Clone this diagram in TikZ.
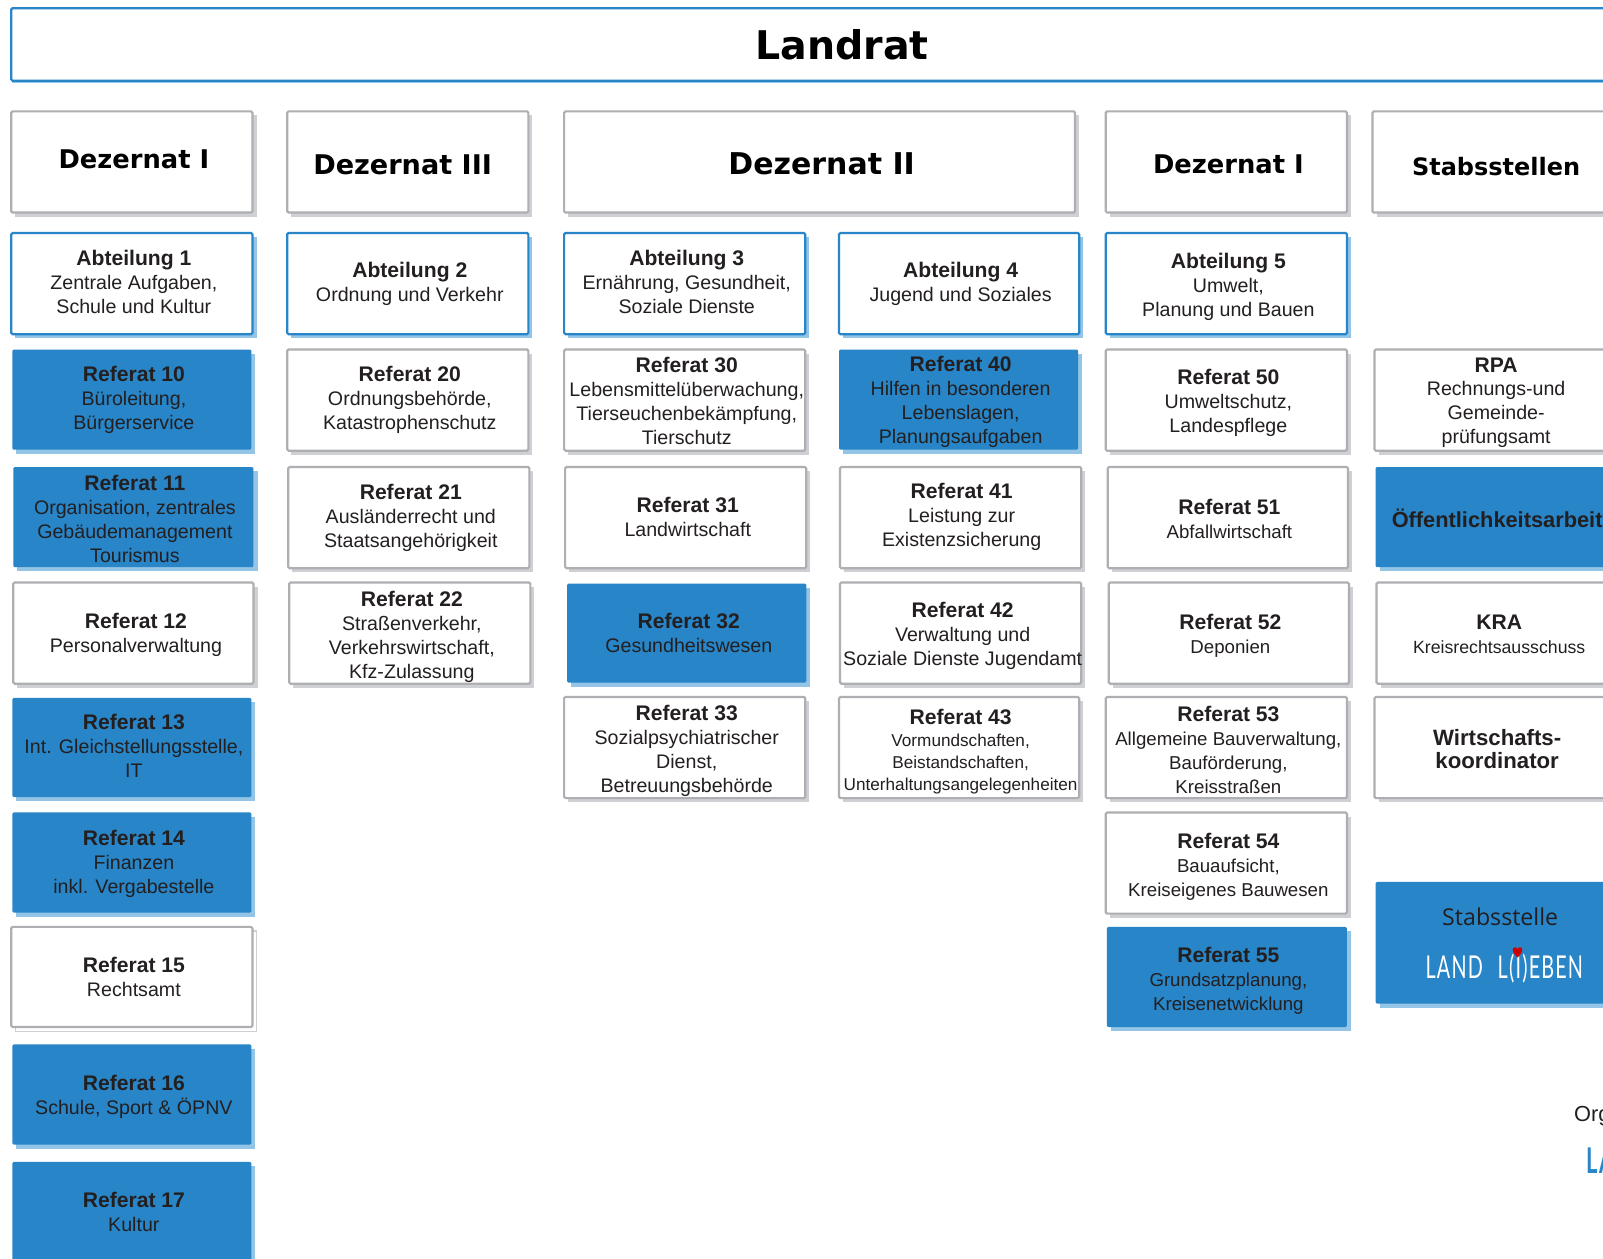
\documentclass[tikz,border=0pt]{standalone}
\usepackage{fontspec}
\setmainfont{Liberation Sans}
\newfontfamily\headf{DejaVu Sans}
\newfontfamily\stabf{Open Sans}
\newfontfamily\deco{Lato}[LetterSpace=6]
\definecolor{blu}{HTML}{2785C8}
\definecolor{blus}{HTML}{94C4E6}
\definecolor{gry}{HTML}{AEAFB3}
\definecolor{grys}{HTML}{CFD0D3}
\definecolor{ink}{HTML}{231F20}
\tikzset{
 base/.style={rectangle,inner sep=0pt,outer sep=0pt,rounded corners=1pt},
 whitebox/.style={base,draw=gry,line width=1.6pt,fill=white},
 abtbox/.style={base,draw=blu,line width=1.6pt,fill=white},
 bluebox/.style={base,fill=blu},
 lightbox/.style={base,draw=gry,line width=1.6pt,fill=white},
 whiteboxshade/.style={fill=grys},
 abtboxshade/.style={fill=blus},
 blueboxshade/.style={fill=blus},
 lightboxshade/.style={fill=white,draw=grys,line width=.8pt},
 txt/.style={align=center,text=ink,inner sep=0pt,font=\fontsize{14.4}{17.5}\selectfont},
}
\newcommand{\hd}[1]{{\fontsize{15.5}{17.5}\selectfont\bfseries #1}}
\newcommand{\dzt}[2][18.9]{{\headf\fontsize{#1}{24}\selectfont\bfseries\textcolor{black}{#2}}}
\newcommand{\sm}[1]{{\fontsize{12.6}{15.5}\selectfont #1}}
\newcommand{\wb}[1]{{\fontsize{16.3}{18.5}\selectfont\bfseries #1}}
\newcommand{\bx}[9]{%
 \path[#6shade] (#2+4,#3+4) rectangle (#4+4,#5+4);
 \node[#6,minimum width={(#4-#2)*0.75pt},minimum height={(#5-#3)*0.75pt}] (#1) at ({(#2+#4)/2},{(#3+#5)/2}) {};
 \node[txt] (#1t) at (#7,#8) {#9};
}
\begin{document}
\begin{tikzpicture}[x=0.75pt,y=-0.75pt]
\useasboundingbox (0,0) rectangle (1568.6,1231);
\clip (0,0) rectangle (1568.6,1231);
\fill[white] (0,0) rectangle (1568.6,1231);
% Landrat
\fill[blus] (12,9) rectangle (1590,81);
\node[abtbox,minimum width={1600*0.75pt},minimum height={71*0.75pt},anchor=north west] (landrat) at (11,8) {};
\node[inner sep=0pt,text=black,font=\headf\fontsize{29}{34}\selectfont\bfseries] (landratt) at (824,44) {Landrat};
% Dezernate
\bx{dza}{11}{109}{247}{208}{whitebox}{131}{156}{\dzt{Dezernat I}}
\bx{dzc}{281}{109}{517}{208}{whitebox}{394}{161}{\dzt[19.9]{Dezernat III}}
\bx{dzb}{552}{109}{1052}{208}{whitebox}{804}{160}{\dzt[22]{Dezernat II}}
\bx{dzd}{1082}{109}{1318}{208}{whitebox}{1202}{161}{\dzt{Dezernat I}}
\bx{stab}{1343}{109}{1620}{208}{whitebox}{1464}{163}{\dzt[17.6]{Stabsstellen}}
% Abteilungen
\bx{a1}{11}{228}{247}{327}{abtbox}{131}{276}{\hd{Abteilung 1}\\Zentrale Aufgaben,\\Schule und Kultur}
\bx{a2}{281}{228}{517}{327}{abtbox}{401}{278}{\hd{Abteilung 2}\\Ordnung und Verkehr}
\bx{a3}{552}{228}{788}{327}{abtbox}{672}{276}{\hd{Abteilung 3}\\Ernährung, Gesundheit,\\Soziale Dienste}
\bx{a4}{821}{228}{1056}{327}{abtbox}{940}{278}{\hd{Abteilung 4}\\Jugend und Soziales}
\bx{a5}{1082}{228}{1318}{327}{abtbox}{1202}{281}{\hd{Abteilung 5}\\Umwelt,\\Planung und Bauen}
% Column 1
\bx{r10}{12}{342}{246}{440}{bluebox}{131}{391}{\hd{Referat 10}\\Büroleitung,\\Bürgerservice}
\bx{r11}{13}{457}{248}{555}{bluebox}{132}{508}{\hd{Referat 11}\\Organisation, zentrales\\Gebäudemanagement\\Tourismus}
\bx{r12}{13}{570}{248}{669}{whitebox}{133}{621}{\hd{Referat 12}\\Personalverwaltung}
\bx{r13}{12}{683}{246}{780}{bluebox}{131}{730}{\hd{Referat 13}\\Int. Gleichstellungsstelle,\\IT}
\bx{r14}{12}{795}{246}{893}{bluebox}{131}{845}{\hd{Referat 14}\\Finanzen\\inkl. Vergabestelle}
\bx{r15}{11}{907}{247}{1005}{lightbox}{131}{956}{\hd{Referat 15}\\Rechtsamt}
\bx{r16}{12}{1022}{246}{1120}{bluebox}{131}{1073}{\hd{Referat 16}\\Schule, Sport \& ÖPNV}
\bx{r17}{12}{1137}{246}{1260}{bluebox}{131}{1186}{\hd{Referat 17}\\Kultur}
% Column 2
\bx{r20}{281}{342}{517}{441}{whitebox}{401}{391}{\hd{Referat 20}\\Ordnungsbehörde,\\Katastrophenschutz}
\bx{r21}{282}{457}{518}{556}{whitebox}{402}{506.5}{\hd{Referat 21}\\Ausländerrecht und\\Staatsangehörigkeit}
\bx{r22}{283}{570}{519}{669}{whitebox}{403}{623}{\hd{Referat 22}\\Straßenverkehr,\\Verkehrswirtschaft,\\Kfz-Zulassung}
% Column 3
\bx{r30}{552}{342}{788}{441}{whitebox}{672}{392.5}{\hd{Referat 30}\\Lebensmittelüberwachung,\\Tierseuchenbekämpfung,\\Tierschutz}
\bx{r31}{553}{457}{789}{556}{whitebox}{673}{506}{\hd{Referat 31}\\Landwirtschaft}
\bx{r32}{555}{571}{789}{668}{bluebox}{674}{619}{\hd{Referat 32}\\Gesundheitswesen}
\bx{r33}{552}{682}{788}{781}{whitebox}{672}{735}{\hd{Referat 33}\\Sozialpsychiatrischer\\Dienst,\\Betreuungsbehörde}
% Column 4
\bx{r40}{821}{342}{1055}{440}{bluebox}{940}{393}{\hd{Referat 40}\\Hilfen in besonderen\\Lebenslagen,\\Planungsaufgaben}
\bx{r41}{822}{457}{1058}{556}{whitebox}{941}{506}{\hd{Referat 41}\\Leistung zur\\Existenzsicherung}
\bx{r42}{822}{570}{1058}{669}{whitebox}{942}{622}{\hd{Referat 42}\\Verwaltung und\\Soziale Dienste Jugendamt}
\bx{r43}{821}{682}{1056}{781}{whitebox}{940}{735.5}{\hd{Referat 43}\\[-1.5pt]\sm{Vormundschaften,}\\[-1.5pt]\sm{Beistandschaften,}\\[-1.5pt]\sm{Unterhaltungsangelegenheiten}}
% Column 5
\bx{r50}{1082}{342}{1318}{441}{whitebox}{1202}{394.5}{\hd{Referat 50}\\Umweltschutz,\\Landespflege}
\begin{scope}[txt/.append style={font=\fontsize{13.7}{17.5}\selectfont}]
\bx{r51}{1084}{457}{1319}{556}{whitebox}{1203}{508}{\hd{Referat 51}\\Abfallwirtschaft}
\bx{r52}{1085}{570}{1320}{669}{whitebox}{1204}{622}{\hd{Referat 52}\\Deponien}
\bx{r53}{1082}{682}{1318}{781}{whitebox}{1202}{734}{\hd{Referat 53}\\Allgemeine Bauverwaltung,\\Bauförderung,\\Kreisstraßen}
\bx{r54}{1082}{795}{1318}{894}{whitebox}{1202}{848.5}{\hd{Referat 54}\\Bauaufsicht,\\Kreiseigenes Bauwesen}
\bx{r55}{1083}{907}{1318}{1005}{bluebox}{1202}{960}{\hd{Referat 55}\\Grundsatzplanung,\\Kreisenetwicklung}
\end{scope}
% Column 6
\bx{rpa}{1345}{342}{1620}{441}{whitebox}{1464}{394}{\hd{RPA}\\Rechnungs-und\\Gemeinde-\\prüfungsamt}
\bx{oeff}{1346}{457}{1620}{555}{bluebox}{1465}{507}{{\fontsize{16}{18}\selectfont\bfseries Öffentlichkeitsarbeit}}
\begin{scope}[txt/.append style={font=\fontsize{13}{17.5}\selectfont}]
\bx{kra}{1347}{570}{1620}{669}{whitebox}{1467}{621}{\hd{KRA}\\Kreisrechtsausschuss}
\end{scope}
\bx{wirt}{1345}{682}{1620}{781}{whitebox}{1465}{733}{\wb{Wirtschafts-}\\\wb{koordinator}}
\bx{sst}{1346}{863}{1620}{982}{bluebox}{1468}{897}{{\stabf\fontsize{17}{20}\selectfont Stabsstelle}}
\node[inner sep=0pt,text=white,font=\deco\fontsize{22}{24}\selectfont] (ll) at (1472,948) {\scalebox{0.66}[1.05]{LAND\hspace{0.75em}L(I)EBEN}};
\fill[red!80!black] (1485,937) .. controls (1480,932) and (1479,928) .. (1482,927) .. controls (1484,926.5) and (1485,928) .. (1485,929) .. controls (1485,928) and (1486,926.5) .. (1488,927) .. controls (1491,928) and (1490,932) .. (1485,937) -- cycle;
% cut off at the right edge
\node[anchor=base west,inner sep=0pt,text=ink,font=\fontsize{16}{18}\selectfont] (org) at (1540,1097) {Org};
\node[anchor=base west,inner sep=0pt,text=blu,font=\deco\fontsize{26}{28}\selectfont\bfseries] (lb) at (1552,1148) {\scalebox{0.62}[1]{LA}};
\end{tikzpicture}
\end{document}
